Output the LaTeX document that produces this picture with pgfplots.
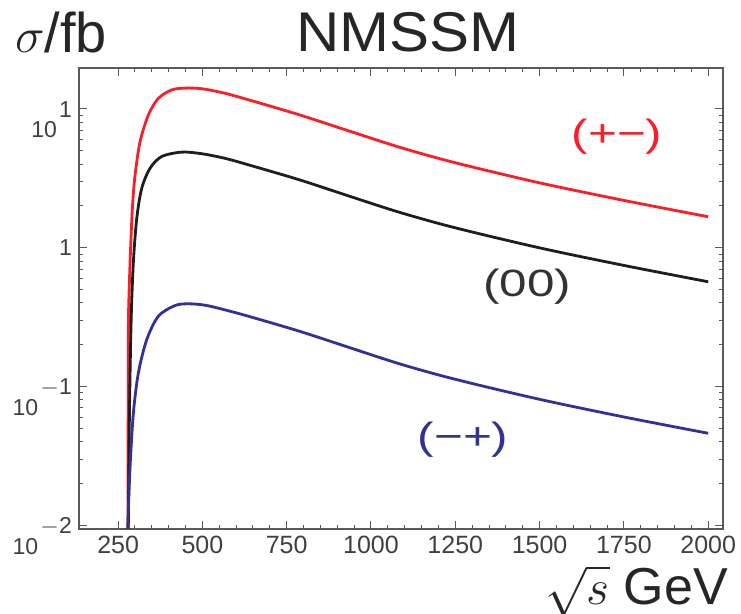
\documentclass[border=0pt]{standalone}
\usepackage{pgfplots}
\pgfplotsset{compat=1.18}
\usepackage{fontspec}
\setmainfont{Liberation Sans}
\newfontfamily\widefont[FakeStretch=1.3]{Liberation Sans}
\newfontfamily\titlefont[FakeStretch=1.07]{Liberation Sans}
\definecolor{cred}{RGB}{250,30,40}
\definecolor{cblue}{RGB}{50,50,150}
\definecolor{cblack}{RGB}{30,30,30}
\definecolor{frame}{RGB}{90,90,90}
\newcommand\ytl[1]{\raisebox{-0.36em}{\raisebox{-0.9em}{10}\hspace{0.1em}#1}}

\begin{document}
\begin{tikzpicture}
\path[use as bounding box] (-39.5pt,-42.5pt) rectangle (331pt,264.5pt);
\begin{axis}[
  scale only axis, width=322pt, height=230.5pt,
  at={(0,0)}, anchor=south west,
  ymode=log, xmin=134, xmax=2044, ymin=0.0094, ymax=19.7,
  xtick={250,500,750,1000,1250,1500,1750,2000},
  minor x tick num=4,
  ytick={0.01,0.1,1,10},
  yticklabels={\ytl{$-$2}, \ytl{$-$1}, \raisebox{-0.36em}{1}, \ytl{1}},
  yticklabel style={anchor=base east, font=\fontsize{11.5}{12}\selectfont, text=black!75},
  xticklabel style={font=\fontsize{12.5}{13}\selectfont, text=black!75},
  /pgf/number format/assume math mode=true,
  /pgf/number format/1000 sep={},
  scaled x ticks=false,
  tick align=inside,
  major tick length=4pt, minor tick length=2pt,
  axis line style={frame, line width=0.6pt},
  every tick/.style={frame, line width=0.5pt},
  clip=true,
]
\addplot[cred, line width=1.4pt, smooth, tension=0.5] coordinates {
(279.0,0.006) (279.8,0.06) (280.6,0.295) (285.6,0.796) (292.4,1.93) (300.4,3.35)
(315.3,5.82) (339.9,9.06) (369.5,11.9) (409.3,13.7) (448.8,14.1) (498.3,13.96)
(567.4,12.94) (641.6,11.53) (790,9.02) (938,6.89) (1087,5.27) (1250,4.09)
(1500,2.93) (1750,2.19) (2000,1.67)
};
\addplot[cblack, line width=1.4pt, smooth, tension=0.5] coordinates {
(279.5,0.006) (283.5,0.06) (288.6,0.295) (295.4,0.796) (305.5,1.64) (320.3,2.69)
(344.9,3.74) (379.6,4.54) (439.0,4.88) (498.3,4.75) (567.4,4.40) (641.6,3.92)
(790,3.07) (938,2.34) (1087,1.79) (1250,1.39) (1500,0.997) (1750,0.745) (2000,0.568)
};
\addplot[cblue, line width=1.4pt, smooth, tension=0.5] coordinates {
(278.3,0.006) (278.8,0.0099) (285.6,0.0267) (295.4,0.0647) (310.2,0.1256)
(335.1,0.218) (369.5,0.321) (419.1,0.383) (458.5,0.394) (508.1,0.385)
(567.4,0.356) (641.6,0.318) (790,0.249) (938,0.190) (1087,0.145) (1250,0.1126)
(1500,0.0808) (1750,0.0603) (2000,0.046)
};
\node[text=cred, font=\widefont\fontsize{19}{20}\selectfont] at (axis cs:1730,6.3) {(+−)};
\node[text=black!80, font=\widefont\fontsize{19}{20}\selectfont] at (axis cs:1463,0.524) {(00)};
\node[text=cblue, font=\widefont\fontsize{19}{20}\selectfont] at (axis cs:1273,0.0416) {(−+)};
\end{axis}
\node[anchor=west, font=\fontsize{28}{30}\selectfont, text=black!85] at (-35.5pt,248.5pt) {$\sigma$/fb};
\node[font=\titlefont\fontsize{28}{30}\selectfont, text=black!85] at (164.5pt,248.5pt) {NMSSM};
\node[anchor=east, inner sep=0pt, font=\fontsize{26}{28}\selectfont, text=black!85] at (324.7pt,-31pt) {$\sqrt{s}$ GeV};
\end{tikzpicture}
\end{document}
